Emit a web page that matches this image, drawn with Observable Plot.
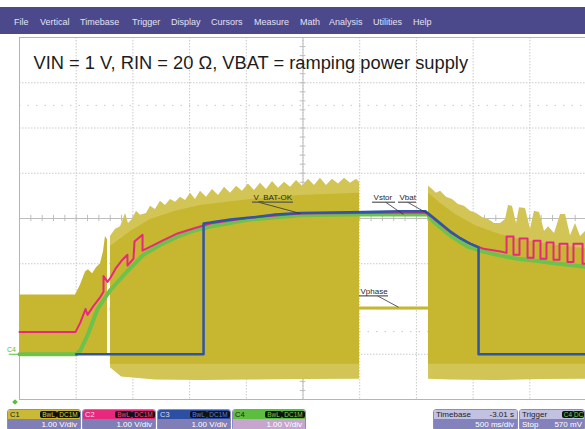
<!DOCTYPE html>
<html><head><meta charset="utf-8">
<script src="https://cdn.jsdelivr.net/npm/d3@7"></script>
<script src="https://cdn.jsdelivr.net/npm/@observablehq/plot@0.6"></script>
<style>
body{margin:0;background:#fff;font-family:"Liberation Sans",Arial,sans-serif;}
#wrap{position:relative;width:585px;height:429px;overflow:hidden;background:#fff}
#menu{position:absolute;left:0;top:7px;width:585px;height:27px;background:#4c488c}
#menu span{position:absolute;top:10px;font-size:9px;line-height:10px;color:#e2e2f2}
#chart{position:absolute;left:0;top:34px}
.box{position:absolute;top:409px;height:22px;border:1px solid #8d8bbd;border-radius:3px;overflow:hidden;box-sizing:border-box}
.top{height:9px;position:relative;font-size:7.5px;line-height:9px;padding-left:2px;white-space:nowrap}
.bot{height:12px;background:#807eb7;color:#fff;font-size:8px;line-height:11px;text-align:right;padding-right:3px;position:relative;white-space:nowrap}
.pill{position:absolute;top:1px;height:7px;line-height:7px;background:#111;border-radius:2px;font-size:6.5px;padding:0 1px;text-align:center}
</style></head>
<body>
<div id="wrap">
  <div id="menu"></div>
  <div id="chart"></div>
</div>
<script>
// ---------- data (time in s, 500 ms/div; voltage in V, 1 V/div) ----------
const title = "VIN = 1 V, RIN = 20 Ω, VBAT = ramping power supply";
const menuItems = ["File","Vertical","Timebase","Trigger","Display","Cursors","Measure","Math","Analysis","Utilities","Help"];
const menuX = [14,40,80,132,171,211,254,300,329,373,413];

// C4 green (Vstor)
const c4 = [[0,0],[0.5,0],[0.538,0.09],[0.6,0.42],[0.688,1.0],[0.802,1.42],[0.952,1.84],[1.093,2.2],[1.243,2.42],[1.393,2.6],[1.534,2.73],[1.684,2.82],[2.037,2.98],[2.478,3.07],[2.919,3.09],[3.598,3.09],[3.651,2.93],[3.801,2.62],[3.951,2.38],[4.092,2.27],[4.242,2.18],[4.392,2.11],[4.533,2.07],[4.683,2.02],[4.832,1.98],[4.991,1.93]];
// C3 blue (V_BAT-OK)
const c3 = [[0.5,0],[1.623,0],[1.623,2.89],[1.684,2.91],[1.861,2.98],[2.037,3.02],[2.257,3.09],[2.478,3.12],[2.919,3.14],[3.36,3.16],[3.58,3.16],[3.624,3.07],[3.713,2.89],[3.801,2.71],[3.889,2.56],[3.977,2.44],[4.048,2.36],[4.048,0],[4.991,0]];
// C2 pink (Vbat)
const c2 = [[0,0.49],[0.494,0.49],[0.538,0.71],[0.582,1.0],[0.6,0.87],[0.653,1.07],[0.714,1.27],[0.741,1.38],[0.741,1.73],[0.776,1.6],[0.802,1.69],[0.847,1.89],[0.908,2.09],[0.952,2.2],[0.952,1.96],[1.005,2.11],[1.014,2.49],[1.085,2.64],[1.085,2.29],[1.243,2.49],[1.393,2.67],[1.534,2.78],[1.684,2.89],[2.037,3.02],[2.478,3.11],[3.58,3.13],[3.651,3.0],[3.801,2.69],[3.951,2.47],[4.092,2.33],[4.242,2.27],[4.295,2.24],[4.295,2.6],[4.356,2.6],[4.356,2.2],[4.409,2.2],[4.409,2.56],[4.48,2.56],[4.48,2.13],[4.533,2.13],[4.533,2.51],[4.594,2.51],[4.594,2.11],[4.647,2.11],[4.647,2.47],[4.709,2.47],[4.709,2.09],[4.762,2.09],[4.762,2.44],[4.832,2.44],[4.832,2.04],[4.885,2.04],[4.885,2.44],[4.965,2.44],[4.965,2.0],[4.991,2.0]];

// C1 yellow (Vphase) switching envelope
const c1StartTop = [[0,1.31],[0.494,1.31],[0.538,1.53],[0.582,1.82],[0.608,1.87],[0.644,1.78],[0.679,1.91],[0.714,2.0],[0.741,2.27],[0.758,2.6],[0.776,2.53]];
const c1SpikeTopB = [[0.802,2.6],[0.847,2.76],[0.891,2.82],[0.935,3.11],[0.961,2.89],[0.996,2.98],[1.032,3.16],[1.067,3.07],[1.12,3.11],[1.155,3.27],[1.199,3.2],[1.243,3.38],[1.287,3.29],[1.332,3.42],[1.376,3.36],[1.42,3.47],[1.464,3.4],[1.508,3.56],[1.552,3.42],[1.596,3.6],[1.649,3.47],[1.702,3.64],[1.755,3.51],[1.808,3.69],[1.861,3.56],[1.914,3.71],[1.966,3.6],[2.019,3.76],[2.072,3.62],[2.125,3.78],[2.178,3.64],[2.231,3.82],[2.284,3.67],[2.337,3.8],[2.39,3.69],[2.443,3.84],[2.496,3.71],[2.549,3.87],[2.601,3.73],[2.654,3.89],[2.707,3.73],[2.76,3.87],[2.813,3.76],[2.866,3.89],[2.919,3.78],[2.972,3.87],[2.998,3.8]];
const c1BaseTopB = [[0.802,2.38],[0.979,2.71],[1.155,2.98],[1.376,3.16],[1.596,3.29],[2.037,3.42],[2.478,3.51],[2.998,3.56]];
const c1SpikeBotB = [[0.802,-0.3],[0.9,-0.5],[1.2,-0.57],[1.6,-0.58],[2.0,-0.57],[2.5,-0.56],[2.998,-0.55]];
const c1Flat = [[2.998,1.02],[3.607,1.02]];
const c1SpikeTopD = [[3.607,3.71],[3.642,3.64],[3.677,3.56],[3.713,3.6],[3.765,3.47],[3.818,3.42],[3.871,3.31],[3.924,3.27],[3.977,3.16],[4.03,3.11],[4.083,3.02],[4.136,2.98],[4.189,2.89],[4.242,2.89],[4.286,2.98],[4.312,3.29],[4.347,3.27],[4.383,2.89],[4.409,3.24],[4.462,3.22],[4.506,2.76],[4.541,3.16],[4.586,3.13],[4.63,2.71],[4.665,2.82],[4.718,2.67],[4.771,3.09],[4.815,3.09],[4.859,2.62],[4.903,2.89],[4.947,2.6],[4.991,2.71]];
const c1BaseTopD = [[3.607,3.56],[3.713,3.33],[3.845,3.09],[4.021,2.84],[4.242,2.64],[4.418,2.53],[4.683,2.42],[4.991,2.33]];
const c1SpikeBotD = [[3.607,-0.55],[3.8,-0.57],[4.2,-0.58],[4.6,-0.56],[4.991,-0.55]];
const c1SolidBottom = -0.22;

const labels = [
  {text:"V_BAT-OK", t:2.063, v:3.47, u1:2.055, u2:2.416, uv:3.36, lt:2.108, pt:2.478, pv:3.11},
  {text:"Vstor", t:3.122, v:3.47, u1:3.113, u2:3.316, uv:3.36, lt:3.228, pt:3.386, pv:3.09},
  {text:"Vbat", t:3.351, v:3.47, u1:3.342, u2:3.501, uv:3.36, lt:3.422, pt:3.598, pv:3.11},
  {text:"Vphase", t:3.007, v:1.38, u1:2.998, u2:3.254, uv:1.29, lt:3.157, pt:3.342, pv:1.04}
];

const channels = [
  {name:"C1", color:"#c9b935", nameColor:"#222", pill:"#d9c93c", scale:"1.00 V/div", bot:"#807eb7", left:7},
  {name:"C2", color:"#e8287c", nameColor:"#fde", pill:"#f24c92", scale:"1.00 V/div", bot:"#807eb7", left:82},
  {name:"C3", color:"#2c4fa3", nameColor:"#dde", pill:"#5a80d8", scale:"1.00 V/div", bot:"#807eb7", left:157},
  {name:"C4", color:"#5dbd3f", nameColor:"#222", pill:"#72d452", scale:"1.00 V/div", bot:"#c6a6cf", left:232}
];
const timebase = {label:"Timebase", offset:"-3.01 s", scale:"500 ms/div"};
const trigger = {label:"Trigger", src:"C4", coupling:"DC", mode:"Stop", level:"570 mV"};

// ---------- menu ----------
const menu = document.getElementById("menu");
menuItems.forEach((m,i)=>{const s=document.createElement("span");s.textContent=m;s.style.left=menuX[i]+"px";menu.appendChild(s);});

// ---------- chart ----------
const YEL = "#c7b630", YEL_L = "#d2c455";
const X = d=>d[0], Y = d=>d[1];
const chart = Plot.plot({
  width: 585, height: 372,
  marginLeft: 19, marginRight: 0, marginTop: 3, marginBottom: 7,
  x: {domain: [0, 4.991], axis: null},
  y: {domain: [-1, 7], axis: null},
  style: {fontFamily: "Liberation Sans, Arial, sans-serif", background: "transparent", overflow: "visible"},
  marks: [
    Plot.ruleX(d3.range(0, 5.01, 0.5), {stroke: "#c9c9c9", strokeDasharray: "1.5,1.5"}),
    Plot.ruleY(d3.range(-1, 7.01, 1), {stroke: "#c9c9c9", strokeDasharray: "1.5,1.5"}),
    Plot.ruleY([0.5, 5.5], {stroke: "#c8c8c8", strokeDasharray: "1.5,7"}),
    Plot.ruleX([2.5], {stroke: "#bdbdbd"}),
    Plot.ruleY([3], {stroke: "#bdbdbd"}),
    Plot.ruleX(d3.range(0, 5.01, 0.1), {x: d=>d, y1: 2.93, y2: 3.07, stroke: "#bdbdbd"}),
    Plot.ruleY(d3.range(-1, 7.01, 0.2), {y: d=>d, x1: 2.475, x2: 2.525, stroke: "#bdbdbd"}),
    Plot.ruleX([0], {stroke: "#b5b5b5"}),
    Plot.ruleY([7, -1], {stroke: "#b5b5b5"}),
    // C1 yellow envelope
    Plot.areaY(c1StartTop, {x: X, y1: 0, y2: Y, fill: YEL}),
    Plot.areaY(c1SpikeTopB, {x: X, y1: 0, y2: Y, fill: YEL_L}),
    Plot.areaY(c1SpikeBotB, {x: X, y1: Y, y2: 0, fill: YEL_L}),
    Plot.areaY(c1BaseTopB, {x: X, y1: c1SolidBottom, y2: Y, fill: YEL}),
    Plot.areaY(c1SpikeTopD, {x: X, y1: 0, y2: Y, fill: YEL_L}),
    Plot.areaY(c1SpikeBotD, {x: X, y1: Y, y2: 0, fill: YEL_L}),
    Plot.areaY(c1BaseTopD, {x: X, y1: c1SolidBottom, y2: Y, fill: YEL}),
    Plot.line(c1Flat, {x: X, y: Y, stroke: YEL, strokeWidth: 3}),
    // traces
    Plot.line(c4, {x: X, y: Y, stroke: "#6cc24a", strokeWidth: 4}),
    Plot.line(c2, {x: X, y: Y, stroke: "#e8287c", strokeWidth: 2}),
    Plot.line(c3, {x: X, y: Y, stroke: "#2d55a8", strokeWidth: 2.5}),
    // annotations
    Plot.link(labels, {x1: "lt", y1: "uv", x2: "pt", y2: "pv", stroke: "#333", strokeWidth: 0.8}),
    Plot.ruleY(labels, {y: "uv", x1: "u1", x2: "u2", stroke: "#555", strokeWidth: 1.2}),
    Plot.text(labels, {x: "t", y: "v", text: "text", textAnchor: "start", fontSize: 8, fill: "#2a2a2a"}),
    Plot.text([title], {frameAnchor: "top-left", dx: 14, dy: 18, fontSize: 18.3, fill: "#1c1c1c"}),
    // ground marker
    Plot.text(["C4"], {x: 0, y: 0, dx: -8, dy: -5, fontSize: 7, fill: "#5dbd3f", textAnchor: "middle"}),
    Plot.ruleY([0], {x1: -0.09, x2: 0, stroke: "#5dbd3f", strokeWidth: 1})
  ]
});
document.getElementById("chart").appendChild(chart);

// ---------- status bar ----------
const wrap = document.getElementById("wrap");
function el(tag, css, txt){const e=document.createElement(tag);Object.assign(e.style,css);if(txt!=null)e.textContent=txt;return e;}
channels.forEach(c=>{
  const b = el("div",{left:c.left+"px",width:"74px"}); b.className="box";
  const t = el("div",{background:c.color,color:c.nameColor}); t.className="top"; t.textContent=c.name;
  const p1 = el("div",{left:"32px",width:"15px",color:c.pill},"BwL"); p1.className="pill";
  const p2 = el("div",{left:"49px",width:"21px",color:c.pill},"DC1M"); p2.className="pill";
  t.appendChild(p1); t.appendChild(p2);
  const bt = el("div",{background:c.bot},c.scale); bt.className="bot";
  b.appendChild(t); b.appendChild(bt); wrap.appendChild(b);
});
{
  const b = el("div",{left:"433px",width:"85px"}); b.className="box";
  const t = el("div",{background:"#c3c1e2",color:"#222"}); t.className="top";
  t.appendChild(el("span",{position:"absolute",left:"2px",fontSize:"8px"},timebase.label));
  t.appendChild(el("span",{position:"absolute",right:"3px",fontSize:"8px"},timebase.offset));
  const bt = el("div",{background:"#8482bc"},timebase.scale); bt.className="bot";
  b.appendChild(t); b.appendChild(bt); wrap.appendChild(b);
}
{
  const b = el("div",{left:"519px",width:"66px"}); b.className="box";
  const t = el("div",{background:"#c3c1e2",color:"#222"}); t.className="top";
  t.appendChild(el("span",{position:"absolute",left:"2px",fontSize:"8px"},trigger.label));
  const p1 = el("div",{left:"42px",width:"10px",color:"#72d452"},trigger.src); p1.className="pill";
  const p2 = el("div",{left:"53px",width:"9px",color:"#72d452"},trigger.coupling); p2.className="pill";
  t.appendChild(p1); t.appendChild(p2);
  const bt = el("div",{background:"#8482bc"}); bt.className="bot";
  bt.appendChild(el("span",{position:"absolute",left:"2px"},trigger.mode));
  bt.appendChild(el("span",{position:"absolute",right:"2px"},trigger.level));
  b.appendChild(t); b.appendChild(bt); wrap.appendChild(b);
}
wrap.appendChild(el("div",{position:"absolute",left:"13px",top:"400px",width:"4px",height:"4px",background:"#5dbd3f",transform:"rotate(45deg)"}));
</script>
</body></html>
